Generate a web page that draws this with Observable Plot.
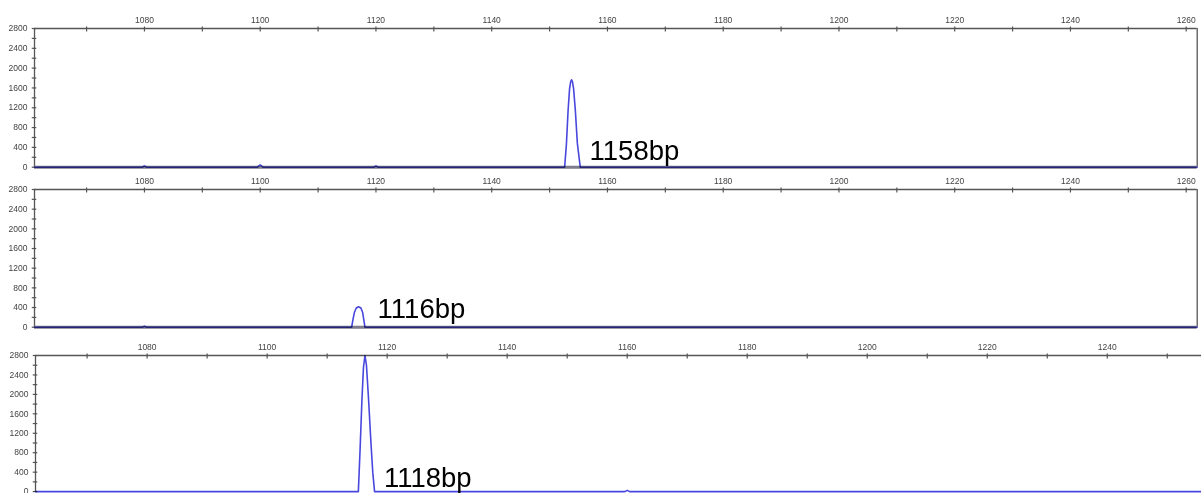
<!DOCTYPE html>
<html>
<head>
<meta charset="utf-8">
<script src="https://cdn.jsdelivr.net/npm/d3@7"></script>
<script src="https://cdn.jsdelivr.net/npm/@observablehq/plot@0.6"></script>
<style>
  html, body { margin: 0; padding: 0; background: #fff; }
  #wrap { position: relative; width: 1201px; height: 493px; overflow: hidden; background: #fff; }
  #wrap svg { position: absolute; left: 0; }
</style>
</head>
<body>
<div id="wrap"></div>
<script>
// ---- data ----
const xTickValues = d3.range(1070, 1261, 10);      // size axis ticks (bp)
const yTickValues = d3.range(0, 2801, 200);        // signal axis ticks
const yMax = 2800;

// panel 1 trace
const p1X = [1061, 1079.6, 1080.0, 1080.4, 1099.5, 1100.0, 1100.5, 1119.6, 1120.0, 1120.4,
             1152.6, 1152.9, 1153.2, 1153.45, 1153.65, 1153.8, 1153.95, 1154.15, 1154.45, 1154.8, 1155.3, 1261.9];
const p1Y = [0, 0, 25, 0, 0, 45, 0, 0, 25, 0,
             0, 450, 1150, 1580, 1730, 1765, 1730, 1580, 1150, 480, 0, 0];
// panel 2 trace
const p2X = [1061, 1079.6, 1080.0, 1080.4, 1115.8, 1116.05, 1116.3, 1116.6, 1117.0, 1117.4, 1117.7, 1117.9, 1118.1, 1261.9];
const p2Y = [0, 0, 20, 0, 0, 170, 310, 390, 417, 390, 300, 150, 0, 0];
// panel 3 trace
const p3X = [1061.4, 1115.2, 1115.5, 1115.8, 1116.05, 1116.3, 1116.55, 1116.9, 1117.3, 1117.6, 1117.9, 1159.6, 1160.0, 1160.4, 1255.7];
const p3Y = [0, 0, 900, 1900, 2550, 2800, 2600, 1900, 1000, 400, 0, 0, 25, 0, 0];

// peak annotations
const peakLabels = ["1158bp", "1116bp", "1118bp"];
const peakX = [1153.8, 1117.0, 1116.3];

// ---- drawing ----
const axisColor = "#555";
const traceColor = "#4848de";
const fontFamily = "'Liberation Sans', Arial, sans-serif";

function panel({xs, ys, label, lx, xDomain, top, height, marginTop, marginBottom, marginLeft, marginRight, rightBorder, labelDx, labelDy, grayBase}) {
  const data = xs.map((x, i) => ({x, y: ys[i]}));
  const ticks = xTickValues.filter(t => t >= xDomain[0] && t <= xDomain[1]);
  const marks = [
    Plot.axisX({anchor: "top", ticks, tickSize: 5, dy: 2.5, tickPadding: 3.5, label: null,
      tickFormat: d => d % 20 === 0 ? String(d) : "", stroke: axisColor, fill: "#444",
      fontSize: 8.5, strokeWidth: 1.2}),
    Plot.axisY({anchor: "left", ticks: yTickValues, tickSize: 4.5, dx: 2.25, tickPadding: 4.75, label: null,
      tickFormat: d => d % 400 === 0 ? String(d) : "", stroke: axisColor, fill: "#444",
      fontSize: 8.5, strokeWidth: 1.2}),
    Plot.ruleY([yMax], {stroke: axisColor, strokeWidth: 1.3}),
    Plot.ruleX([xDomain[0]], {stroke: axisColor, strokeWidth: 1.3}),
  ];
  if (rightBorder) marks.push(Plot.ruleX([xDomain[1]], {stroke: axisColor, strokeWidth: 1.3}));
  if (grayBase) marks.push(Plot.ruleY([0], {stroke: "#7c7c8c", strokeWidth: 3}));
  marks.push(Plot.line(data, {x: "x", y: "y", stroke: traceColor, strokeWidth: 1.6,
    mixBlendMode: "multiply", curve: "linear"}));
  marks.push(Plot.text([label], {x: () => lx, y: () => 0, text: d => d, textAnchor: "start",
    lineAnchor: "bottom", dx: labelDx, dy: labelDy, fontSize: 27.5, fill: "#000",
    fontFamily}));
  const svg = Plot.plot({
    width: 1201, height,
    marginTop, marginBottom, marginLeft, marginRight,
    x: {domain: xDomain, axis: null},
    y: {domain: [0, yMax], axis: null},
    style: {background: "transparent", overflow: "visible", fontFamily, fontSize: "8.5px"},
    marks
  });
  svg.style.top = top + "px";
  return svg;
}

const wrap = document.getElementById("wrap");
wrap.append(panel({xs: p1X, ys: p1Y, label: peakLabels[0], lx: peakX[0], xDomain: [1061, 1261.9],
  top: 0, height: 170, marginTop: 28, marginBottom: 3.3, marginLeft: 34, marginRight: 4.3,
  rightBorder: true, labelDx: 18, labelDy: -7, grayBase: true}));
wrap.append(panel({xs: p2X, ys: p2Y, label: peakLabels[1], lx: peakX[1], xDomain: [1061, 1261.9],
  top: 168, height: 162, marginTop: 21, marginBottom: 3.3, marginLeft: 34, marginRight: 4.3,
  rightBorder: true, labelDx: 19, labelDy: -9, grayBase: true}));
wrap.append(panel({xs: p3X, ys: p3Y, label: peakLabels[2], lx: peakX[2], xDomain: [1061.4, 1255.7],
  top: 330, height: 163, marginTop: 25, marginBottom: 1.9, marginLeft: 35, marginRight: 0,
  rightBorder: false, labelDx: 19, labelDy: -4.5, grayBase: false}));
</script>
</body>
</html>
